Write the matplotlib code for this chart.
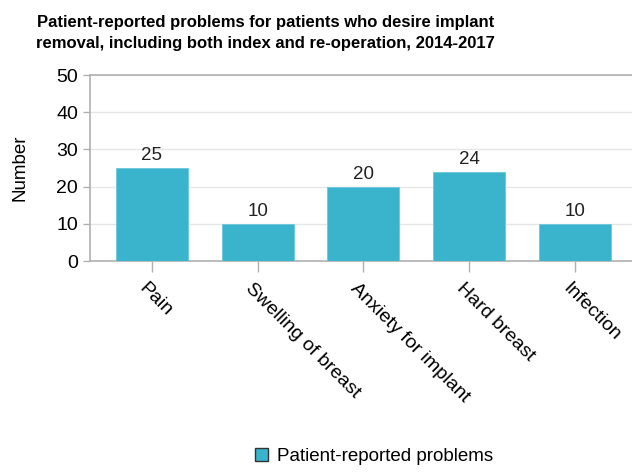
import numpy as np
from matplotlib import pyplot as plt
from matplotlib.patches import Patch
from matplotlib.transforms import offset_copy

plt.rcParams['font.family'] = ['Liberation Sans', 'DejaVu Sans']

# data
categories = ['Pain', 'Swelling of breast', 'Anxiety for implant', 'Hard breast', 'Infection']
counts     = [25, 10, 20, 24, 10]
yticks     = [0, 10, 20, 30, 40, 50]

bar_color  = '#3AB4CD'
grid_color = '#e6e6e6'
axis_color = '#b0b0b0'

fig = plt.figure(figsize=(6.32, 4.75), dpi=100)
ax  = fig.add_axes([0.143, 0.4505, 0.864, 0.3916])

x = np.arange(len(categories))
bars = ax.bar(x, counts, width=0.68, color=bar_color, edgecolor='#6cc8da', linewidth=0.6, zorder=3)
for xi, v in zip(x, counts):
	ax.text(xi, v + 1.0, str(v), ha='center', va='bottom', fontsize=13.5, color='#222222', zorder=4)

ax.set_xlim(-0.58, len(categories) - 1 + 0.58)
ax.set_ylim(0, 50)
ax.set_yticks(yticks)
ax.yaxis.grid(True, color=grid_color, lw=1, zorder=0)
ax.set_xticks(x)
ax.set_xticklabels([])
# rotated category labels, placed by hand so they sit like the reference
lab_tr = offset_copy(ax.get_xaxis_transform(), fig=fig, x=-10, y=-25, units='dots')
for xi, c in zip(x, categories):
	ax.text(xi, 0, c, transform=lab_tr, rotation=-45, ha='left', va='center',
		rotation_mode='anchor', fontsize=14, clip_on=False)
ax.tick_params(axis='y', labelsize=14, length=5, color=axis_color, width=1, pad=4)
ax.tick_params(axis='x', length=8, color=axis_color, width=1)

for s in ['left', 'bottom', 'top']:
	ax.spines[s].set_color(axis_color)
	ax.spines[s].set_linewidth(1.2)
ax.spines['right'].set_visible(False)

ax.set_ylabel('Number', fontsize=13.5, labelpad=20)
fig.text(0.42, 0.968, 'Patient-reported problems for patients who desire implant\nremoval, including both index and re-operation, 2014-2017',
	ha='center', va='top', fontsize=12, fontweight='bold', linespacing=1.45)

leg = fig.legend(handles=[Patch(facecolor=bar_color, edgecolor='#333333', lw=1)],
	labels=['Patient-reported problems'], loc='lower center', bbox_to_anchor=(0.592, -0.015),
	frameon=False, fontsize=13.5, handlelength=0.7, handleheight=0.7, handletextpad=0.5)

plt.savefig('out.png', dpi=100)
